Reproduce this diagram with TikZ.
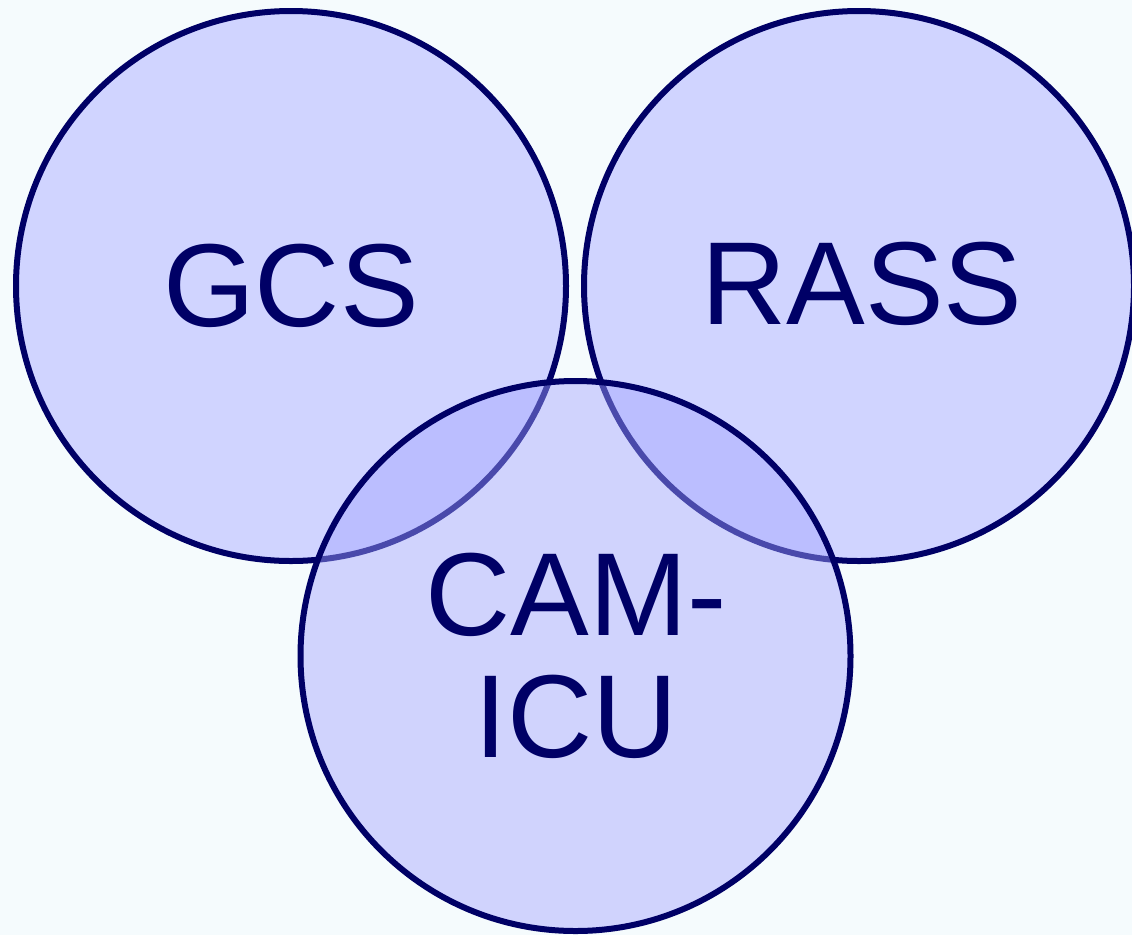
\documentclass[tikz,border=0pt]{standalone}
\usepackage{fontspec}
\setmainfont{Liberation Sans}
\definecolor{navy}{RGB}{0,0,102}
\definecolor{lav}{RGB}{208,212,255}
\definecolor{lavdeep}{RGB}{163,164,255}
\definecolor{paper}{RGB}{245,251,253}
\tikzset{
  x=1pt, y=1pt,
  ring/.style={circle, draw=navy, line width=6pt, minimum size=550pt, inner sep=0pt},
  label/.style={text=navy, font=\fontsize{118}{120}\selectfont, inner sep=0pt, align=center}
}
\begin{document}
\begin{tikzpicture}
  % page
  \fill[paper] (0,0) rectangle (1132,-935);
  \useasboundingbox (0,0) rectangle (1132,-935);
  % the three overlapping scales
  \node[ring, fill=lav] (gcs) at (291,-286) {};
  \node[ring, fill=lav] (rass) at (859,-286) {};
  \node[ring, fill=lavdeep, fill opacity=0.45, draw opacity=1] (cam) at (575.5,-656) {};
  % captions
  \node[label, anchor=base] (gcst) at (291,-326) {GCS};
  \node[label, anchor=base] (rasst) at (862,-324) {RASS};
  \node[label, anchor=base] (camt) at (576,-635) {CAM-};
  \node[label, anchor=base] (icut) at (576,-757) {ICU};
\end{tikzpicture}
\end{document}
